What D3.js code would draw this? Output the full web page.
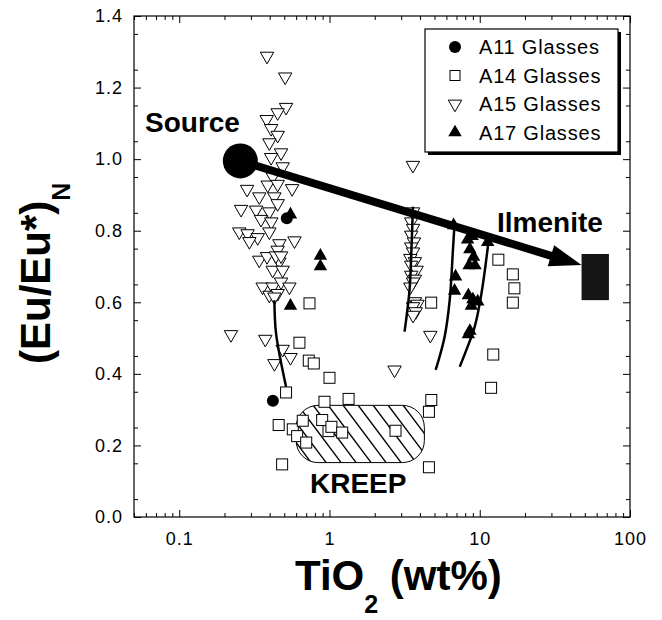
<!DOCTYPE html>
<html><head><meta charset="utf-8">
<script src="https://cdn.jsdelivr.net/npm/d3@7"></script>
<style>
body{margin:0;background:#fff}
svg{display:block}
text{font-family:"Liberation Sans",Arial,Helvetica,sans-serif;fill:#000}
</style>
</head><body>
<svg id="chart" width="662" height="620"></svg>
<script>
// ---------------- DATA ----------------
const seriesNames = ["A11 Glasses","A14 Glasses","A15 Glasses","A17 Glasses"];

const a11 = [[0.52,0.835],[0.42,0.325]];

const a14 = [
  [0.736,0.597],[4.75,0.599],[13.3,0.719],[16.6,0.678],[17.0,0.639],[16.6,0.599],
  [12.3,0.454],[11.9,0.361],[0.631,0.487],[0.728,0.437],[0.786,0.429],[1.0,0.389],
  [0.514,0.348],[0.926,0.322],[1.34,0.33],[4.76,0.327],[4.59,0.294],[0.459,0.257],
  [0.57,0.245],[0.664,0.269],[0.894,0.271],[0.609,0.226],[0.70,0.208],[0.985,0.240],
  [1.03,0.252],[1.215,0.236],[2.75,0.241],[0.484,0.147],[4.59,0.139]
];

const a15 = [
  [0.384,1.288],[0.507,1.230],[0.514,1.145],[0.452,1.130],[0.382,1.111],[0.409,1.086],
  [0.452,1.067],[0.398,1.046],[0.476,1.018],[0.409,1.005],[0.488,0.979],[0.419,0.951],
  [0.283,0.916],[0.564,0.918],[0.388,0.928],[0.452,0.930],[0.341,0.895],[0.43,0.895],
  [0.258,0.860],[0.325,0.858],[0.398,0.853],[0.452,0.876],[0.350,0.832],[0.41,0.825],
  [0.251,0.797],[0.285,0.792],[0.333,0.781],[0.398,0.797],[0.464,0.764],[0.585,0.772],
  [0.293,0.770],[0.341,0.718],[0.384,0.728],[0.452,0.746],[0.464,0.713],[0.419,0.690],
  [0.488,0.690],[0.359,0.643],[0.419,0.643],[0.476,0.657],[0.541,0.643],[0.398,0.620],
  [0.452,0.625],[0.43,0.615],[0.44,0.73],[0.476,0.73],
  [0.221,0.510],[0.374,0.497],[0.488,0.469],[0.55,0.446],[0.43,0.429],
  [3.59,0.983],[3.6,0.853],[3.5,0.825],[3.6,0.807],[3.5,0.788],[3.65,0.769],[3.5,0.755],
  [3.6,0.741],[3.45,0.723],[3.7,0.714],[3.5,0.704],[3.8,0.690],[3.5,0.676],[3.7,0.665],
  [3.6,0.657],[3.45,0.643],[3.7,0.602],[3.85,0.595],[3.6,0.588],[3.75,0.574],[3.6,0.564],
  [4.69,0.508],[2.71,0.411]
];

const a17 = [
  [0.55,0.845],[0.87,0.73],[0.87,0.70],[0.55,0.59],[6.7,0.815],[6.9,0.672],[6.8,0.632],
  [8.3,0.775],[8.9,0.785],[8.6,0.748],[9.1,0.727],[8.5,0.703],[9.3,0.703],[11.3,0.768],
  [8.4,0.619],[9.0,0.608],[9.7,0.602],[8.8,0.590],[8.6,0.520],[8.4,0.510]
];

// model curves
const curveA = [[0.430,0.606],[0.441,0.513],[0.514,0.364]];
const curveB = [[3.59,0.867],[3.51,0.746],[3.41,0.634],[3.16,0.518]];
const curveC = [[6.81,0.825],[6.63,0.746],[6.31,0.606],[5.84,0.504],[5.09,0.411]];
const curveD = [[11.4,0.765],[10.27,0.625],[9.26,0.532],[8.15,0.467],[7.36,0.42]];

const sourcePoint = [0.255,0.995];
const ilmeniteTip = [47.6,0.704];
const ilmeniteBox = {x0:47.6, x1:72.4, y0:0.606, y1:0.735};
const kreepBox = {x0:0.60, x1:4.28, y0:0.152, y1:0.312};

const xTicks = [0.1,1,10,100];
const xTickLabels = ["0.1","1","10","100"];
const yTicks = [0,0.2,0.4,0.6,0.8,1.0,1.2,1.4];
const yTickLabels = ["0.0","0.2","0.4","0.6","0.8","1.0","1.2","1.4"];

// ---------------- CHART ----------------
const svg = d3.select("#chart");
const x = d3.scaleLog().domain([0.05,100]).range([134,630]);
const y = d3.scaleLinear().domain([0,1.4]).range([517,16]);
const L = x.range()[0], R = x.range()[1], T = y.range()[1], B = y.range()[0];

// minor ticks
const xMinor = [];
[0.01,0.1,1,10].forEach(d => { for (let m=2;m<=9;m++){ const v=d*m; if (v>=0.05 && v<=100 && xTicks.indexOf(v)<0) xMinor.push(v);} });
const yMinor = d3.range(0.05,1.4,0.1).map(v=>+v.toFixed(2));

function styleAxis(g){ g.select(".domain").remove(); g.selectAll("line").attr("stroke","#000").attr("stroke-width",1); }

svg.append("g").attr("transform",`translate(0,${B})`)
  .call(d3.axisBottom(x).tickValues(xTicks).tickFormat((d,i)=>xTickLabels[i]).tickSize(-7).tickPadding(15))
  .call(styleAxis).selectAll("text").attr("font-size",18).attr("letter-spacing","1px").attr("font-family","Liberation Sans, Arial, sans-serif");
svg.append("g").attr("transform",`translate(0,${B})`)
  .call(d3.axisBottom(x).tickValues(xMinor).tickFormat("").tickSize(-4)).call(styleAxis);
svg.append("g").attr("transform",`translate(0,${T})`)
  .call(d3.axisTop(x).tickValues(xTicks).tickFormat("").tickSize(-7)).call(styleAxis);
svg.append("g").attr("transform",`translate(0,${T})`)
  .call(d3.axisTop(x).tickValues(xMinor).tickFormat("").tickSize(-4)).call(styleAxis);

svg.append("g").attr("transform",`translate(${L},0)`)
  .call(d3.axisLeft(y).tickValues(yTicks).tickFormat((d,i)=>yTickLabels[i]).tickSize(-7).tickPadding(11))
  .call(styleAxis).selectAll("text").attr("font-size",18).attr("letter-spacing","1px").attr("font-family","Liberation Sans, Arial, sans-serif");
svg.append("g").attr("transform",`translate(${L},0)`)
  .call(d3.axisLeft(y).tickValues(yMinor).tickFormat("").tickSize(-4)).call(styleAxis);
svg.append("g").attr("transform",`translate(${R},0)`)
  .call(d3.axisRight(y).tickValues(yTicks).tickFormat("").tickSize(-7)).call(styleAxis);
svg.append("g").attr("transform",`translate(${R},0)`)
  .call(d3.axisRight(y).tickValues(yMinor).tickFormat("").tickSize(-4)).call(styleAxis);

svg.append("rect").attr("x",L).attr("y",T).attr("width",R-L).attr("height",B-T)
  .attr("fill","none").attr("stroke","#000").attr("stroke-width",1.2);

// KREEP hatched region
const kx0 = x(kreepBox.x0), kx1 = x(kreepBox.x1), ky0 = y(kreepBox.y1), ky1 = y(kreepBox.y0);
const defs = svg.append("defs");
defs.append("clipPath").attr("id","kclip").append("rect")
  .attr("x",kx0).attr("y",ky0).attr("width",kx1-kx0).attr("height",ky1-ky0).attr("rx",22).attr("ry",22);
const hatch = svg.append("g").attr("clip-path","url(#kclip)");
const hh = ky1-ky0, slope = 0.75;
for (let k = kx0 - hh*slope; k < kx1 + 5; k += 15) {
  hatch.append("line").attr("x1",k).attr("y1",ky0).attr("x2",k+hh*slope).attr("y2",ky1)
    .attr("stroke","#000").attr("stroke-width",1.4);
}
svg.append("rect").attr("x",kx0).attr("y",ky0).attr("width",kx1-kx0).attr("height",ky1-ky0)
  .attr("rx",22).attr("ry",22).attr("fill","none").attr("stroke","#000").attr("stroke-width",1);

// markers
const triDown = d3.symbol().type(d3.symbolTriangle).size(78);
function sqr(g,data){
  g.selectAll("rect").data(data).join("rect")
   .attr("x",d=>x(d[0])-5.5).attr("y",d=>y(d[1])-5.5).attr("width",11).attr("height",11)
   .attr("fill","#fff").attr("stroke","#000").attr("stroke-width",1);
}
sqr(svg.append("g"), a14);

svg.append("g").selectAll("path").data(a15).join("path")
  .attr("d",triDown).attr("transform",d=>`translate(${x(d[0])},${y(d[1])}) rotate(180)`)
  .attr("fill","#fff").attr("stroke","#000").attr("stroke-width",1);

svg.append("g").selectAll("circle").data(a11).join("circle")
  .attr("cx",d=>x(d[0])).attr("cy",d=>y(d[1])).attr("r",6).attr("fill","#000");

svg.append("g").selectAll("path").data(a17).join("path")
  .attr("d",triDown).attr("transform",d=>`translate(${x(d[0])},${y(d[1])})`)
  .attr("fill","#000");

// curves
const line = d3.line().x(d=>x(d[0])).y(d=>y(d[1])).curve(d3.curveCatmullRom);
[curveA,curveB,curveC,curveD].forEach(c=>{
  svg.append("path").attr("d",line(c)).attr("fill","none").attr("stroke","#000").attr("stroke-width",2.5);
});

// arrow Source -> Ilmenite
const sx = x(sourcePoint[0]), sy = y(sourcePoint[1]);
const tx = x(ilmeniteTip[0]), ty = y(ilmeniteTip[1]);
const len = Math.hypot(tx-sx,ty-sy), ux=(tx-sx)/len, uy=(ty-sy)/len, nx=-uy, ny=ux;
const headL = 32, headW = 11;
const bx = tx-ux*headL, by = ty-uy*headL;
svg.append("line").attr("x1",sx).attr("y1",sy).attr("x2",bx+ux*2).attr("y2",by+uy*2)
  .attr("stroke","#000").attr("stroke-width",8);
svg.append("path").attr("d",`M${tx},${ty}L${bx+nx*headW},${by+ny*headW}L${bx-nx*headW},${by-ny*headW}Z`).attr("fill","#000");
svg.append("circle").attr("cx",sx).attr("cy",sy).attr("r",17.5).attr("fill","#000");

svg.append("rect").attr("x",x(ilmeniteBox.x0)).attr("y",y(ilmeniteBox.y1))
  .attr("width",x(ilmeniteBox.x1)-x(ilmeniteBox.x0)).attr("height",y(ilmeniteBox.y0)-y(ilmeniteBox.y1))
  .attr("fill","#151515");

// annotation labels
svg.append("text").attr("x",145).attr("y",132).attr("font-size",28).attr("font-weight","bold").text("Source");
svg.append("text").attr("x",497).attr("y",232).attr("font-size",28).attr("font-weight","bold").text("Ilmenite");
svg.append("text").attr("x",310).attr("y",493).attr("font-size",28).attr("font-weight","bold").text("KREEP");

// legend
const lg = svg.append("g");
lg.append("rect").attr("x",428).attr("y",32).attr("width",193).attr("height",123).attr("fill","#000");
lg.append("rect").attr("x",425).attr("y",29).attr("width",193).attr("height",123).attr("fill","#fff").attr("stroke","#000").attr("stroke-width",1.2);
const rowY = [47, 75.5, 104, 132.5];
lg.append("circle").attr("cx",455).attr("cy",rowY[0]).attr("r",6).attr("fill","#000");
lg.append("rect").attr("x",450).attr("y",rowY[1]-5).attr("width",10).attr("height",10).attr("fill","#fff").attr("stroke","#000");
lg.append("path").attr("d",triDown).attr("transform",`translate(455,${rowY[2]}) rotate(180)`).attr("fill","#fff").attr("stroke","#000");
lg.append("path").attr("d",triDown).attr("transform",`translate(455,${rowY[3]})`).attr("fill","#000");
seriesNames.forEach((n,i)=>{
  lg.append("text").attr("x",479).attr("y",rowY[i]+7).attr("font-size",20).attr("letter-spacing","0.8px").text(n);
});

// axis titles
const xt = svg.append("text").attr("x",295).attr("y",590).attr("font-size",42).attr("font-weight","bold");
xt.append("tspan").text("TiO");
xt.append("tspan").attr("font-size",25).attr("dy",23).text("2");
xt.append("tspan").attr("dy",-23).text(" (wt%)");

const yt = svg.append("text").attr("transform","translate(50,364) rotate(-90)").attr("font-size",42).attr("font-weight","bold");
yt.append("tspan").text("(Eu/Eu*)");
yt.append("tspan").attr("font-size",25).attr("dy",20).text("N");
</script>
</body></html>
